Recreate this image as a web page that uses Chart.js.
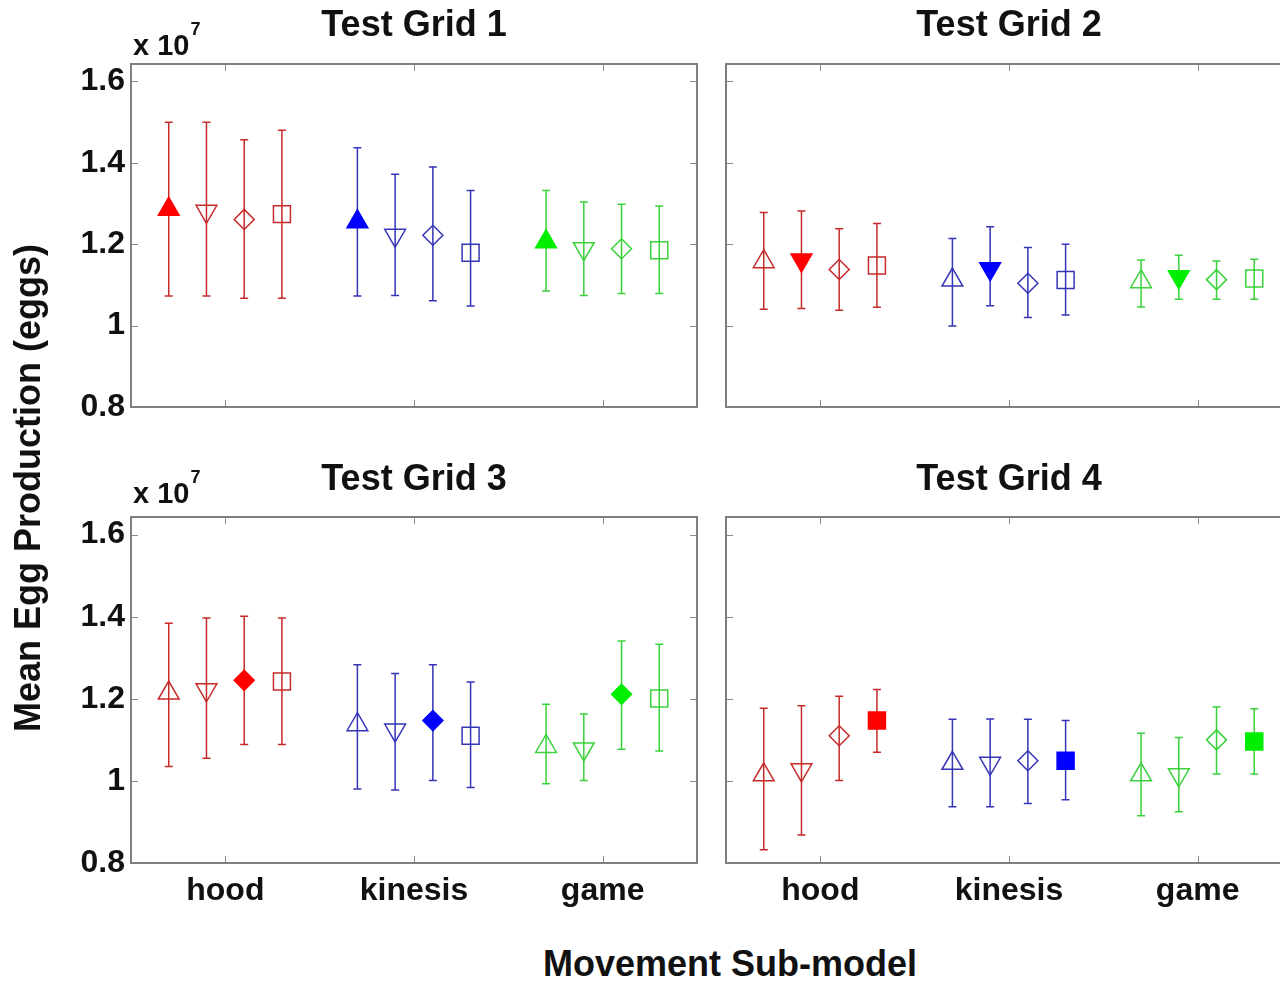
<!DOCTYPE html>
<html lang="en">
<head>
<meta charset="UTF-8">
<title>Mean Egg Production by Movement Sub-model</title>
<script src="https://cdn.jsdelivr.net/npm/chart.js"></script>
<style>
  body { margin: 0; background: #fff; }
  #page {
    position: relative; width: 1280px; height: 983px; overflow: hidden; background: #fff;
    font-family: "Liberation Sans", Arial, sans-serif; font-weight: bold; color: #111;
  }
  canvas { position: absolute; }
  .txt { position: absolute; white-space: nowrap; z-index: 2; }
  .title { font-size: 36px; line-height: 40px; transform: translateX(-50%); }
  .scale { font-size: 29px; line-height: 32px; left: 133px; }
  .scale span { font-size: 18px; position: relative; top: -20px; margin-left: 1px; }
  .ytitle { font-size: 36px; line-height: 40px; width: 600px; text-align: center;
            left: -272px; top: 468px; transform: rotate(-90deg); }
  .xtitle { font-size: 36px; line-height: 40px; transform: translateX(-50%); left: 730px; top: 944px; }
</style>
</head>
<body>
<div id="page">
  <canvas id="grid1" width="686" height="443" style="left:31px;top:24px"></canvas>
  <canvas id="grid2" width="686" height="443" style="left:626px;top:24px"></canvas>
  <canvas id="grid3" width="686" height="446" style="left:31px;top:477px"></canvas>
  <canvas id="grid4" width="686" height="446" style="left:626px;top:477px"></canvas>

  <div class="txt title" style="left:414px;top:4px">Test Grid 1</div>
  <div class="txt title" style="left:1009px;top:4px">Test Grid 2</div>
  <div class="txt title" style="left:414px;top:458px">Test Grid 3</div>
  <div class="txt title" style="left:1009px;top:458px">Test Grid 4</div>
  <div class="txt scale" style="top:29px">x 10<span>7</span></div>
  <div class="txt scale" style="top:477px">x 10<span>7</span></div>
  <div class="txt ytitle">Mean Egg Production (eggs)</div>
  <div class="txt xtitle">Movement Sub-model</div>
</div>
<script>
    // values in units of 10^7 eggs; order: hood x4, kinesis x4, game x4
    // (markers in each group: up-triangle, down-triangle, diamond, square)
    const groups = ['hood', 'kinesis', 'game'];
    const yTicks = [0.8, 1, 1.2, 1.4, 1.6];

    const grid1Mean = [1.286, 1.281, 1.261, 1.274, 1.255, 1.222, 1.222, 1.179, 1.206, 1.189, 1.189, 1.185];
    const grid1Low  = [1.073, 1.073, 1.067, 1.067, 1.073, 1.074, 1.061, 1.048, 1.085, 1.074, 1.079, 1.079];
    const grid1High = [1.500, 1.500, 1.457, 1.480, 1.437, 1.372, 1.390, 1.332, 1.332, 1.304, 1.298, 1.294];

    const grid2Mean = [1.157, 1.161, 1.138, 1.148, 1.112, 1.140, 1.104, 1.112, 1.108, 1.120, 1.113, 1.116];
    const grid2Low  = [1.040, 1.042, 1.038, 1.045, 0.999, 1.049, 1.020, 1.026, 1.046, 1.065, 1.065, 1.065];
    const grid2High = [1.278, 1.282, 1.238, 1.251, 1.214, 1.243, 1.192, 1.200, 1.161, 1.173, 1.159, 1.163];

    const grid3Mean = [1.214, 1.222, 1.245, 1.242, 1.137, 1.124, 1.147, 1.110, 1.084, 1.078, 1.211, 1.201];
    const grid3Low  = [1.035, 1.055, 1.089, 1.089, 0.980, 0.978, 1.001, 0.984, 0.993, 1.001, 1.077, 1.073];
    const grid3High = [1.384, 1.397, 1.401, 1.397, 1.283, 1.262, 1.283, 1.241, 1.187, 1.163, 1.341, 1.333];

    const grid4Mean = [1.015, 1.027, 1.110, 1.147, 1.043, 1.043, 1.049, 1.049, 1.015, 1.015, 1.100, 1.096];
    const grid4Low  = [0.832, 0.868, 1.001, 1.070, 0.937, 0.937, 0.945, 0.954, 0.915, 0.925, 1.017, 1.017];
    const grid4High = [1.177, 1.183, 1.206, 1.223, 1.150, 1.151, 1.150, 1.147, 1.116, 1.106, 1.180, 1.176];

    // styling
    const lineColors = ['#c62a2a', '#3535b8', '#3ad23a'];
    const fillColors = ['#ff0000', '#0000ff', '#00ee00'];
    const offsets = [-0.3, -0.1, 0.1, 0.3];
    const markerStyle = ['triangle', 'triangle', 'rectRot', 'rect'];
    const markerRotation = [0, 180, 0, 0];
    const markerRadius = [12, 12, 10, 12];
    const fontFamily = '"Liberation Sans", Arial, sans-serif';

    // error bars, box and inward ticks (matlab style)
    const framePlugin = {
        id: 'frame',
        beforeDatasetsDraw(chart) {
            const { ctx, scales: { x, y } } = chart;
            ctx.save();
            ctx.lineWidth = 1.5;
            chart.data.datasets.forEach(ds => {
                ctx.strokeStyle = ds.barColor;
                ds.data.forEach(p => {
                    const px = x.getPixelForValue(p.x);
                    const top = y.getPixelForValue(p.hi);
                    const bot = y.getPixelForValue(p.lo);
                    ctx.beginPath();
                    ctx.moveTo(px, top); ctx.lineTo(px, bot);
                    ctx.moveTo(px - 4, top); ctx.lineTo(px + 4, top);
                    ctx.moveTo(px - 4, bot); ctx.lineTo(px + 4, bot);
                    ctx.stroke();
                });
            });
            ctx.restore();
        },
        afterDraw(chart) {
            const { ctx, chartArea: a, scales: { x, y } } = chart;
            ctx.save();
            ctx.strokeStyle = '#8a8a8a';
            ctx.lineWidth = 1;
            ctx.beginPath();
            x.ticks.forEach(t => {
                const px = Math.round(x.getPixelForValue(t.value)) + 0.5;
                ctx.moveTo(px, a.bottom); ctx.lineTo(px, a.bottom - 7);
                ctx.moveTo(px, a.top); ctx.lineTo(px, a.top + 7);
            });
            y.ticks.forEach(t => {
                const py = Math.round(y.getPixelForValue(t.value)) + 0.5;
                ctx.moveTo(a.left, py); ctx.lineTo(a.left + 7, py);
                ctx.moveTo(a.right, py); ctx.lineTo(a.right - 7, py);
            });
            ctx.stroke();
            ctx.strokeStyle = '#7f7f7f';
            ctx.lineWidth = 2;
            ctx.strokeRect(a.left, a.top, a.right - a.left, a.bottom - a.top);
            ctx.restore();
        }
    };

    function makePanel(id, mean, low, high, filled, showY, showX) {
        const datasets = groups.map((name, g) => ({
            label: name,
            data: offsets.map((off, k) => ({
                x: g + 1 + off,
                y: mean[g * 4 + k],
                lo: low[g * 4 + k],
                hi: high[g * 4 + k]
            })),
            barColor: lineColors[g],
            pointStyle: markerStyle,
            pointRotation: markerRotation,
            pointRadius: markerRadius,
            pointBorderWidth: 1.5,
            pointBorderColor: offsets.map((o, k) => k === filled ? fillColors[g] : lineColors[g]),
            pointBackgroundColor: offsets.map((o, k) => k === filled ? fillColors[g] : 'rgba(0,0,0,0)')
        }));

        new Chart(document.getElementById(id), {
            type: 'scatter',
            data: { datasets },
            options: {
                responsive: false,
                animation: false,
                events: [],
                layout: { padding: { top: 40, right: 20, left: 0, bottom: 0 } },
                plugins: { legend: { display: false }, tooltip: { enabled: false } },
                scales: {
                    x: {
                        type: 'linear', min: 0.5, max: 3.5,
                        afterBuildTicks: s => { s.ticks = groups.map((n, i) => ({ value: i + 1 })); },
                        afterFit: s => { s.height = 60; },
                        grid: { display: false, drawTicks: false },
                        border: { display: false },
                        ticks: {
                            display: showX, padding: 9, color: '#111',
                            font: { family: fontFamily, size: 32, weight: 'bold' },
                            callback: v => groups[Math.round(v) - 1]
                        }
                    },
                    y: {
                        type: 'linear', min: 0.8, max: 1.643,
                        afterBuildTicks: s => { s.ticks = yTicks.map(v => ({ value: v })); },
                        afterFit: s => { s.width = 100; },
                        grid: { display: false, drawTicks: false },
                        border: { display: false },
                        ticks: {
                            display: showY, padding: 6, color: '#111',
                            font: { family: fontFamily, size: 32, weight: 'bold' },
                            callback: v => String(v)
                        }
                    }
                }
            },
            plugins: [framePlugin]
        });
    }

    makePanel('grid1', grid1Mean, grid1Low, grid1High, 0, true, false);
    makePanel('grid2', grid2Mean, grid2Low, grid2High, 1, false, false);
    makePanel('grid3', grid3Mean, grid3Low, grid3High, 2, true, true);
    makePanel('grid4', grid4Mean, grid4Low, grid4High, 3, false, true);
</script>
</body>
</html>
